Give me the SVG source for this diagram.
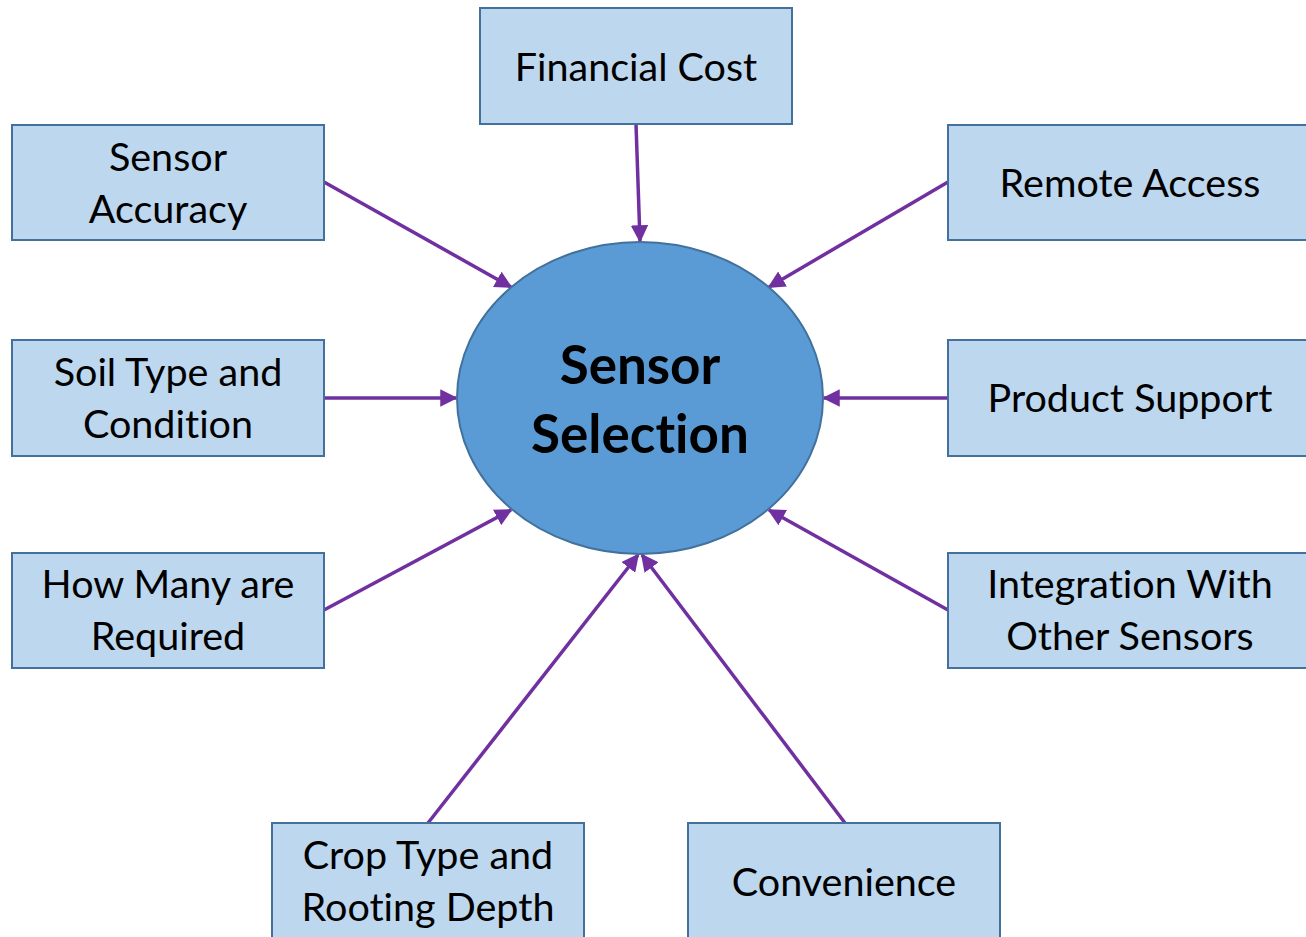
<svg xmlns="http://www.w3.org/2000/svg" width="1306" height="937" viewBox="0 0 1306 937">
<style>
.box{fill:#BDD7EE;stroke:#41719C;stroke-width:2}
.t{font-family:Lato,"Open Sans",sans-serif;font-size:39.5px;fill:#000;text-anchor:middle;font-variant-ligatures:none}
.c{font-family:Lato,"Open Sans",sans-serif;font-size:53px;font-weight:bold;fill:#000;text-anchor:middle;font-variant-ligatures:none}
.a{stroke:#7030A0;stroke-width:3.5;fill:none;marker-end:url(#ah)}
</style>
<defs>
<marker id="ah" markerWidth="5" markerHeight="5" refX="4.5" refY="2.5" orient="auto" markerUnits="strokeWidth">
<path d="M0,0 L5,2.5 L0,5 Z" fill="#7030A0"/>
</marker>
</defs>
<rect width="1306" height="937" fill="#fff"/>
<g id="connectors">
<line class="a" x1="636" y1="124" x2="640" y2="241"/>
<line class="a" x1="324" y1="182" x2="511" y2="287"/>
<line class="a" x1="948" y1="182" x2="769" y2="287"/>
<line class="a" x1="324" y1="398" x2="456" y2="398"/>
<line class="a" x1="948" y1="398" x2="824" y2="398"/>
<line class="a" x1="324" y1="610" x2="511" y2="510"/>
<line class="a" x1="948" y1="610" x2="769" y2="510"/>
<line class="a" x1="428" y1="823" x2="638" y2="555"/>
<line class="a" x1="845" y1="823" x2="642" y2="555"/>
</g>
<g id="center">
<ellipse cx="640" cy="398" rx="183" ry="156" fill="#5B9BD5" stroke="#41719C" stroke-width="2"/>
<text class="c" x="640" y="384">Sensor</text>
<text class="c" x="640" y="453">Selection</text>
</g>
<g id="financial"><rect class="box" x="480" y="8" width="312" height="116"/><text class="t" x="636" y="81">Financial Cost</text></g>
<g id="accuracy"><rect class="box" x="12" y="125" width="312" height="115"/><text class="t" x="168" y="171">Sensor</text><text class="t" x="168" y="223">Accuracy</text></g>
<g id="remote"><rect class="box" x="948" y="125" width="370" height="115"/><text class="t" x="1130" y="197">Remote Access</text></g>
<g id="soil"><rect class="box" x="12" y="340" width="312" height="116"/><text class="t" x="168" y="386">Soil Type and</text><text class="t" x="168" y="438">Condition</text></g>
<g id="product"><rect class="box" x="948" y="340" width="370" height="116"/><text class="t" x="1130" y="412">Product Support</text></g>
<g id="howmany"><rect class="box" x="12" y="553" width="312" height="115"/><text class="t" x="168" y="598">How Many are</text><text class="t" x="168" y="650">Required</text></g>
<g id="integration"><rect class="box" x="948" y="553" width="370" height="115"/><text class="t" x="1130" y="598">Integration With</text><text class="t" x="1130" y="650">Other Sensors</text></g>
<g id="crop"><rect class="box" x="272" y="823" width="312" height="130"/><text class="t" x="428" y="869">Crop Type and</text><text class="t" x="428" y="921">Rooting Depth</text></g>
<g id="convenience"><rect class="box" x="688" y="823" width="312" height="130"/><text class="t" x="844" y="896">Convenience</text></g>
</svg>
